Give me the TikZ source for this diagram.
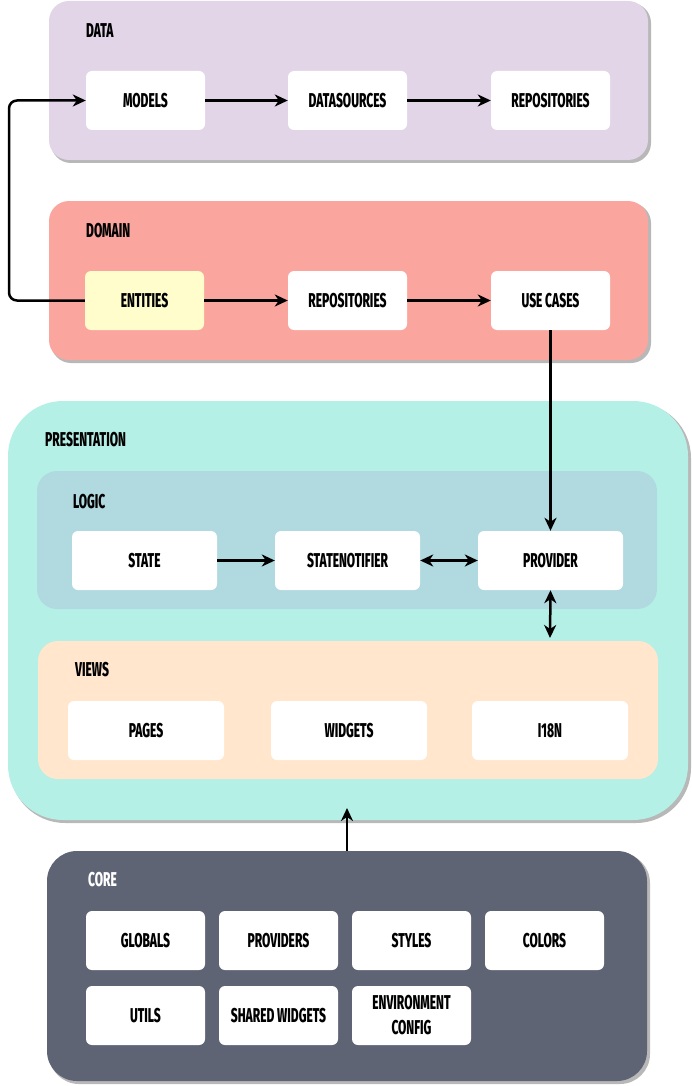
\documentclass[tikz,border=0pt]{standalone}
\usepackage{fontspec}
\setmainfont{Fira Sans}[FakeStretch=0.6,BoldFont={Fira Sans ExtraBold},BoldFeatures={FakeStretch=0.6}]
\usetikzlibrary{arrows.meta}
\definecolor{datac}{HTML}{E1D5E7}
\definecolor{domainc}{HTML}{FAA69E}
\definecolor{presc}{HTML}{B5F0E6}
\definecolor{logicc}{HTML}{B0D9E0}
\definecolor{viewsc}{HTML}{FFE6CC}
\definecolor{entc}{HTML}{FFFDCC}
\definecolor{corec}{HTML}{5F6474}
\definecolor{shadowc}{HTML}{B8B8B8}
\begin{document}
\begin{tikzpicture}[x=1pt,y=-1pt,
  box/.style={fill=white,rounded corners=6pt,font=\bfseries\fontsize{20}{25}\selectfont,align=center,inner sep=0pt},
  lbl/.style={anchor=west,font=\bfseries\fontsize{20}{25}\selectfont,inner sep=0pt},
  conn/.style={line width=2.5pt,-{Stealth[length=13pt,width=12pt,inset=4pt]}},
  conn2/.style={line width=2.5pt,{Stealth[length=13pt,width=12pt,inset=4pt]}-{Stealth[length=13pt,width=12pt,inset=4pt]}}]
\useasboundingbox (0,0) rectangle (691,1086);
% DATA
\fill[shadowc,rounded corners=20pt] (51,3) rectangle (651,163);
\fill[datac,rounded corners=20pt] (49,1) rectangle (648,160);
\node[lbl] (datal) at (86,31) {DATA};
\node[box,minimum width=119pt,minimum height=59pt] (models) at (145.5,100.5) {MODELS};
\node[box,minimum width=119pt,minimum height=59pt] (datasrc) at (347.5,100.5) {DATASOURCES};
\node[box,minimum width=119pt,minimum height=59pt] (drepo) at (550.5,100.5) {REPOSITORIES};
% DOMAIN
\fill[shadowc,rounded corners=20pt] (51,203) rectangle (651,363);
\fill[domainc,rounded corners=20pt] (49,201) rectangle (648,360);
\node[lbl] (domainl) at (86,231) {DOMAIN};
\node[box,fill=entc,minimum width=119pt,minimum height=59pt] (ent) at (144.5,300.5) {ENTITIES};
\node[box,minimum width=119pt,minimum height=59pt] (orepo) at (347.5,300.5) {REPOSITORIES};
\node[box,minimum width=119pt,minimum height=59pt] (uc) at (550.5,300.5) {USE CASES};
% PRESENTATION
\fill[shadowc,rounded corners=55pt] (10,403) rectangle (691,823);
\fill[presc,rounded corners=55pt] (8,401) rectangle (688,820);
\node[lbl] (presl) at (45,440) {PRESENTATION};
\fill[logicc,rounded corners=20pt] (37,471) rectangle (657,609);
\node[lbl] (logicl) at (73,502) {LOGIC};
\node[box,minimum width=145pt,minimum height=59pt] (state) at (144.5,560.5) {STATE};
\node[box,minimum width=145pt,minimum height=59pt] (sn) at (347.5,560.5) {STATENOTIFIER};
\node[box,minimum width=145pt,minimum height=59pt] (prov) at (550.5,560.5) {PROVIDER};
\fill[viewsc,rounded corners=20pt] (38,641) rectangle (658,779);
\node[lbl] (viewsl) at (75,670) {VIEWS};
\node[box,minimum width=156pt,minimum height=59pt] (pages) at (146,730.5) {PAGES};
\node[box,minimum width=156pt,minimum height=59pt] (widgets) at (349,730.5) {WIDGETS};
\node[box,minimum width=156pt,minimum height=59pt] (i18n) at (550,730.5) {I18N};
\coordinate (viewstop) at (550,638);
\coordinate (presbot) at (347,808);
% CORE
\fill[shadowc,rounded corners=30pt] (49,853) rectangle (650,1084);
\fill[corec,rounded corners=30pt] (47,851) rectangle (647,1081);
\node[lbl,text=white] (corel) at (88,880) {CORE};
\node[box,minimum width=119pt,minimum height=59pt] (glob) at (145.5,940.5) {GLOBALS};
\node[box,minimum width=119pt,minimum height=59pt] (provs) at (278.5,940.5) {PROVIDERS};
\node[box,minimum width=119pt,minimum height=59pt] (styles) at (411.5,940.5) {STYLES};
\node[box,minimum width=119pt,minimum height=59pt] (colors) at (544.5,940.5) {COLORS};
\node[box,minimum width=119pt,minimum height=59pt] (utils) at (145.5,1015.5) {UTILS};
\node[box,minimum width=119pt,minimum height=59pt] (shw) at (278.5,1015.5) {SHARED WIDGETS};
\node[box,minimum width=119pt,minimum height=59pt] (env) at (411.5,1015.5) {ENVIRONMENT\\CONFIG};
\coordinate (coretop) at (347,851);
% connectors
\draw[conn] (models) -- (datasrc);
\draw[conn] (datasrc) -- (drepo);
\draw[conn] (ent) -- (orepo);
\draw[conn] (orepo) -- (uc);
\draw[conn,rounded corners=8pt] (ent.west) -- (9,300.5) -- (9,100.5) -- (models.west);
\draw[conn] (uc.south) -- (prov.north);
\draw[conn] (state) -- (sn);
\draw[conn2] (sn) -- (prov);
\draw[conn2] (prov.south) -- (viewstop);
\draw[conn] (coretop) -- (presbot);
\end{tikzpicture}
\end{document}
